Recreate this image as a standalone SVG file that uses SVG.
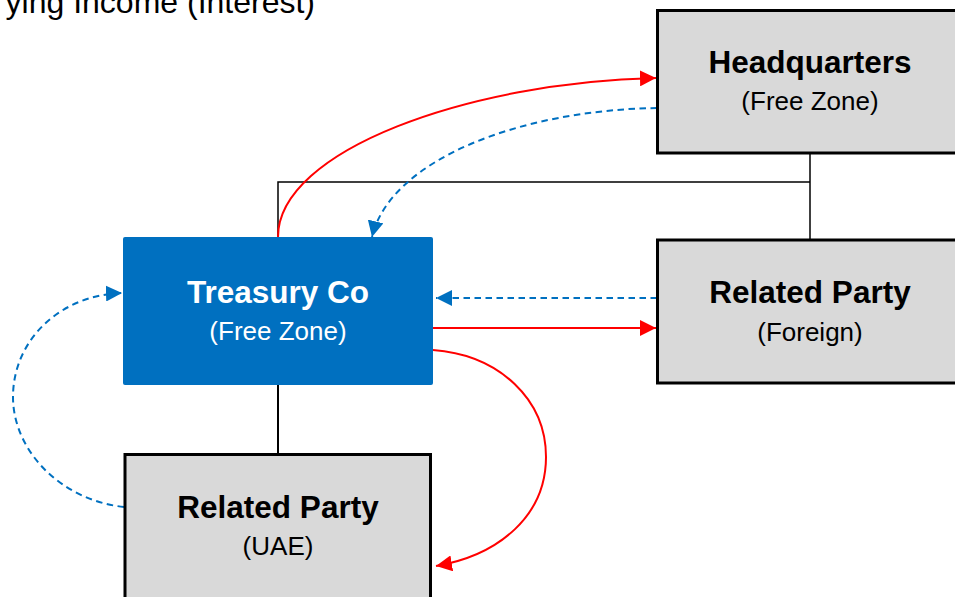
<svg xmlns="http://www.w3.org/2000/svg" width="955" height="597" viewBox="0 0 955 597">
  <style>
    .box { fill: #D9D9D9; stroke: #000000; stroke-width: 3; }
    .tc { fill: #0070C0; }
    .title { font-family: "Liberation Sans", Arial, sans-serif; font-weight: bold; font-size: 31.5px; text-anchor: middle; fill: #000000; }
    .sub { font-family: "Liberation Sans", Arial, sans-serif; font-size: 26px; text-anchor: middle; fill: #000000; }
    .white { fill: #FFFFFF; }
    .heading { font-family: "Liberation Sans", Arial, sans-serif; font-size: 32px; text-anchor: end; fill: #000000; }
    .tree { fill: none; stroke: #000000; stroke-width: 1.5; }
    .red { fill: none; stroke: #FF0000; stroke-width: 2; }
    .blue { fill: none; stroke: #0070C0; stroke-width: 2; stroke-dasharray: 6.5 4.5; }
  </style>
  <defs>
    <marker id="arrowRed" markerUnits="userSpaceOnUse" markerWidth="16" markerHeight="16" refX="16" refY="8" orient="auto">
      <path d="M0,0 L16,8 L0,16 z" fill="#FF0000"/>
    </marker>
    <marker id="arrowBlue" markerUnits="userSpaceOnUse" markerWidth="16" markerHeight="16" refX="16" refY="8" orient="auto">
      <path d="M0,0 L16,8 L0,16 z" fill="#0070C0"/>
    </marker>
  </defs>

  <rect width="955" height="597" fill="#FFFFFF"/>

  <text class="heading" x="315" y="13">ying Income (Interest)</text>

  <g id="connectors">
    <path class="tree" d="M278,237 L278,182 L810,182"/>
    <path class="tree" d="M810,154 L810,240"/>
    <path class="tree" style="stroke-width:2" d="M278,385 L278,454"/>
    <path class="red" d="M278,237 C278,150 470,82 656,78" marker-end="url(#arrowRed)"/>
    <path class="blue" d="M657,108 C520,110 390,160 372,237" marker-end="url(#arrowBlue)"/>
    <path class="blue" d="M657,298 L436,298" marker-end="url(#arrowBlue)"/>
    <path class="red" d="M433,328 L656,328" marker-end="url(#arrowRed)"/>
    <path class="red" d="M433,350 C500,355 546,400 546,457 C546,515 500,555 436,566" marker-end="url(#arrowRed)"/>
    <path class="blue" d="M124,507 C60,500 13,450 13,397 C13,340 60,295 122,293" marker-end="url(#arrowBlue)"/>
  </g>

  <g id="headquarters">
    <rect class="box" x="657.5" y="10.5" width="305" height="142.5"/>
    <text class="title" x="810" y="73">Headquarters</text>
    <text class="sub" x="810" y="110">(Free Zone)</text>
  </g>

  <g id="related-party-foreign">
    <rect class="box" x="657.5" y="240" width="305" height="143"/>
    <text class="title" x="810" y="303">Related Party</text>
    <text class="sub" x="810" y="341">(Foreign)</text>
  </g>

  <g id="treasury-co">
    <rect class="tc" x="123" y="237" width="310" height="148" rx="2"/>
    <text class="title white" x="278" y="303">Treasury Co</text>
    <text class="sub white" x="278" y="340">(Free Zone)</text>
  </g>

  <g id="related-party-uae">
    <rect class="box" x="125" y="454.5" width="305.5" height="150"/>
    <text class="title" x="278" y="518">Related Party</text>
    <text class="sub" x="278" y="555">(UAE)</text>
  </g>
</svg>
